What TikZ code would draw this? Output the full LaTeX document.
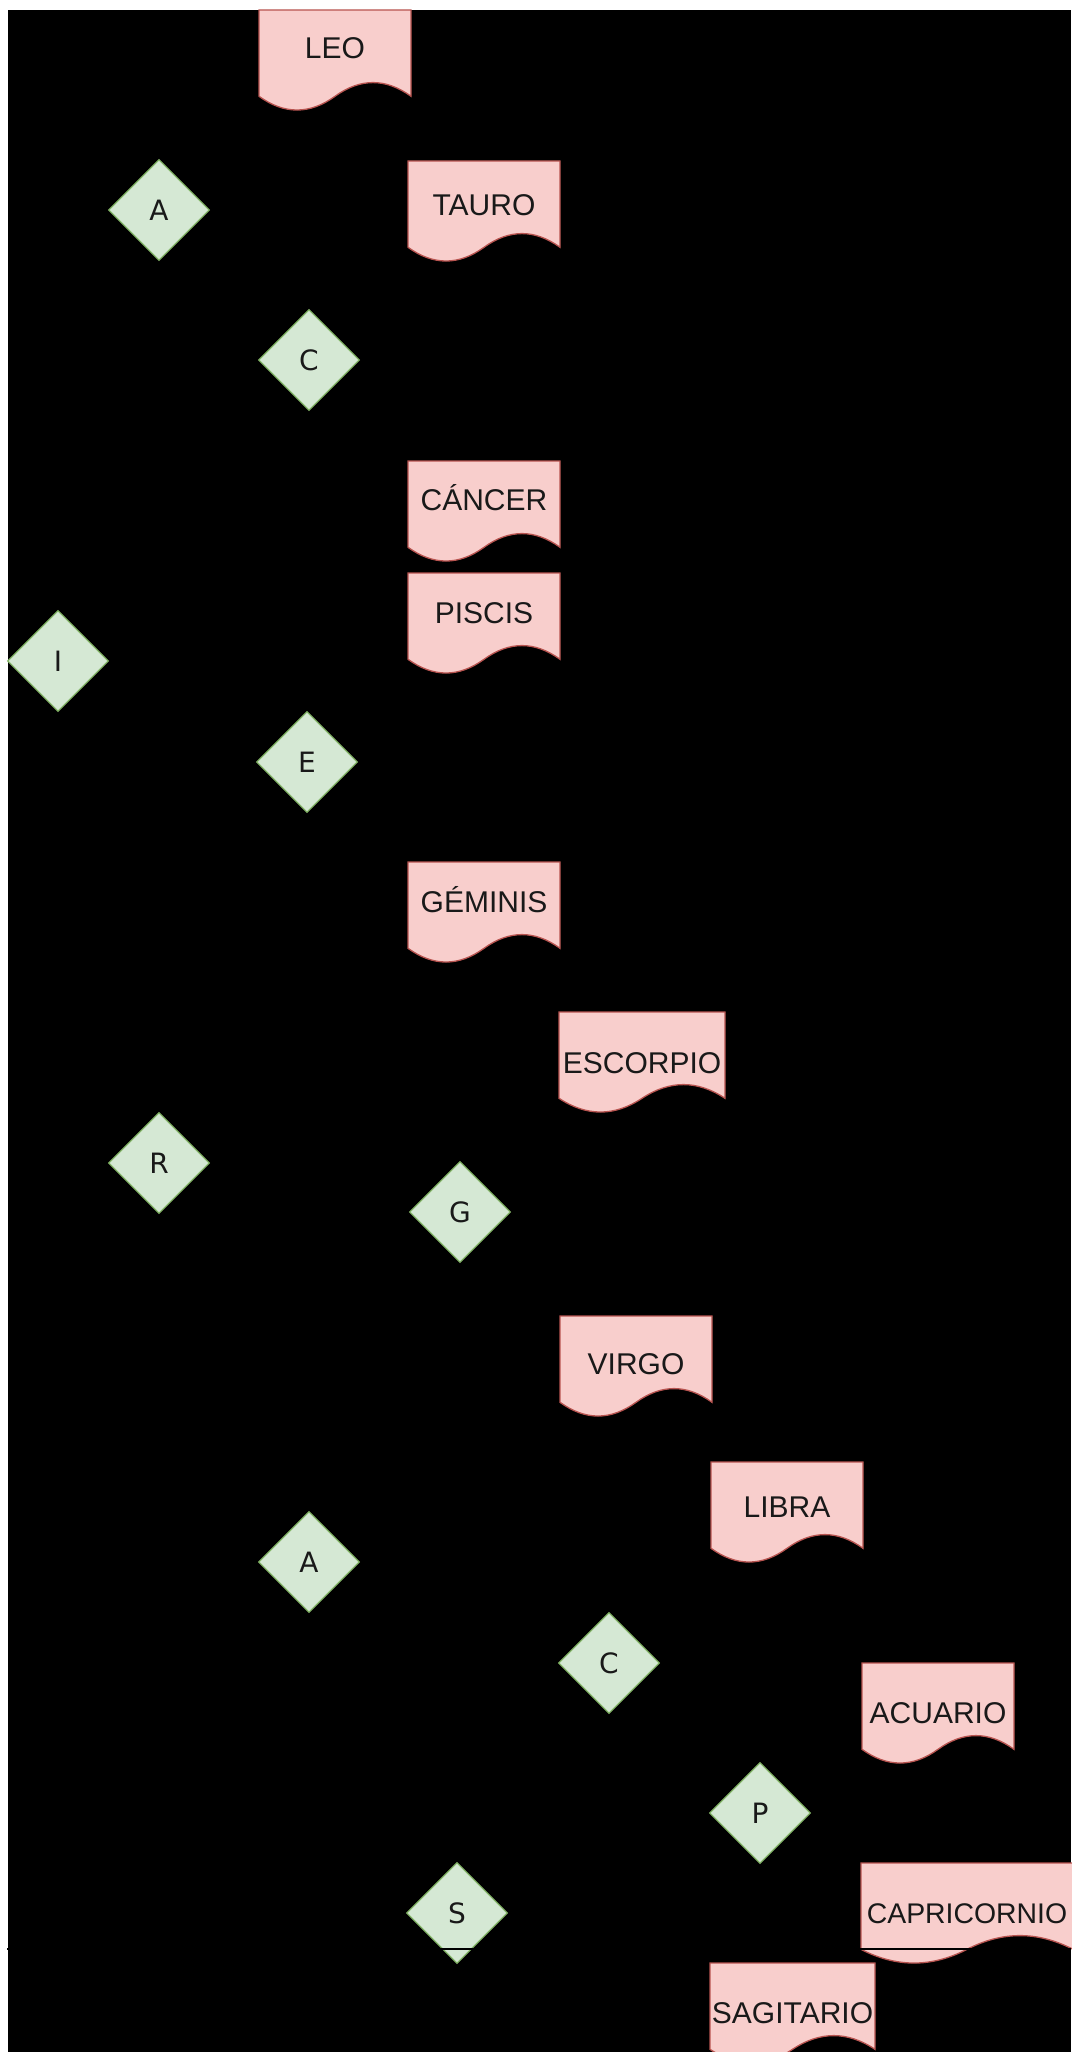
\documentclass[tikz,border=0pt]{standalone}
\usepackage{fontspec}
\setmainfont{Liberation Sans}
\newfontfamily\letterfont{DejaVu Sans}
\usetikzlibrary{shapes.geometric}

\definecolor{docfill}{HTML}{F8CECC}
\definecolor{docline}{HTML}{B85450}
\definecolor{keyfill}{HTML}{D5E8D4}
\definecolor{keyline}{HTML}{82B366}

\tikzset{
  docshape/.style={fill=docfill, draw=docline, line width=1.3pt},
  doctext/.style={inner sep=0pt, text height=21pt, text depth=0pt,
    text=black!90, font=\fontsize{30}{34}\selectfont},
  key/.style={diamond, aspect=1, minimum size=101pt, inner sep=0pt,
    fill=keyfill, draw=keyline, line width=1.3pt, text=black!90,
    font=\letterfont\fontsize{28}{32}\selectfont}
}

% name, left, top, width, label, label height
\newcommand{\signo}[6]{%
  \filldraw [docshape] (#2, #3) -- ({#2+#4}, #3) -- ({#2+#4}, #3+86.3) %
  .. controls ({#2+0.8333*#4}, #3+68) and ({#2+0.6667*#4}, #3+68) .. ({#2+0.5*#4}, #3+86.3) %
  .. controls ({#2+0.3333*#4}, #3+104.6) and ({#2+0.1667*#4}, #3+104.6) .. (#2, #3+86.3) -- cycle;
  \node [doctext] (#1) at ({#2+0.5*#4}, #3+#6) {#5};
}

\begin{document}
\begin{tikzpicture}[x=1pt, y=-1pt]
  \useasboundingbox (0, 0) rectangle (1071, 2052);
  \fill [white] (0, 0) rectangle (1071, 2052);
  \fill [black] (8, 10) rectangle (1071, 2052);

  \node [key] (i) at (58, 661) {I};
  \node [key] (a) at (159, 210) {A};
  \node [key] (r) at (159, 1163) {R};
  \node [key] (c) at (309, 360) {C};
  \node [key] (e) at (307, 762) {E};
  \node [key] (a2) at (309, 1562) {A};
  \node [key] (g) at (460, 1212) {G};
  \node [key] (s) at (457, 1913) {S};
  \node [key] (c2) at (609, 1663) {C};
  \node [key] (p) at (760, 1813) {P};

  \signo{leo}{259}{10}{152}{LEO}{38.5}
  \signo{tauro}{408}{161}{152}{TAURO}{44}
  \signo{cancer}{408}{461}{152}{CÁNCER}{39}
  \signo{piscis}{408}{573}{152}{PISCIS}{39.5}
  \signo{geminis}{408}{862}{152}{GÉMINIS}{39.5}
  \signo{escorpio}{559}{1012}{166}{ESCORPIO}{51}
  \signo{virgo}{560}{1316}{152}{VIRGO}{47.5}
  \signo{libra}{711}{1462}{152}{LIBRA}{44.5}
  \signo{acuario}{862}{1663}{152}{ACUARIO}{50}
  \signo{capricornio}{861}{1863}{212}{\fontsize{28.4}{32}\selectfont CAPRICORNIO}{50}
  \signo{sagitario}{710}{1963}{165}{SAGITARIO}{50}

  \coordinate (izq) at (7, 1949);
  \coordinate (der) at (1071, 1949);
  \draw [black, line width=1.3pt] (izq) -- (der);
\end{tikzpicture}
\end{document}
